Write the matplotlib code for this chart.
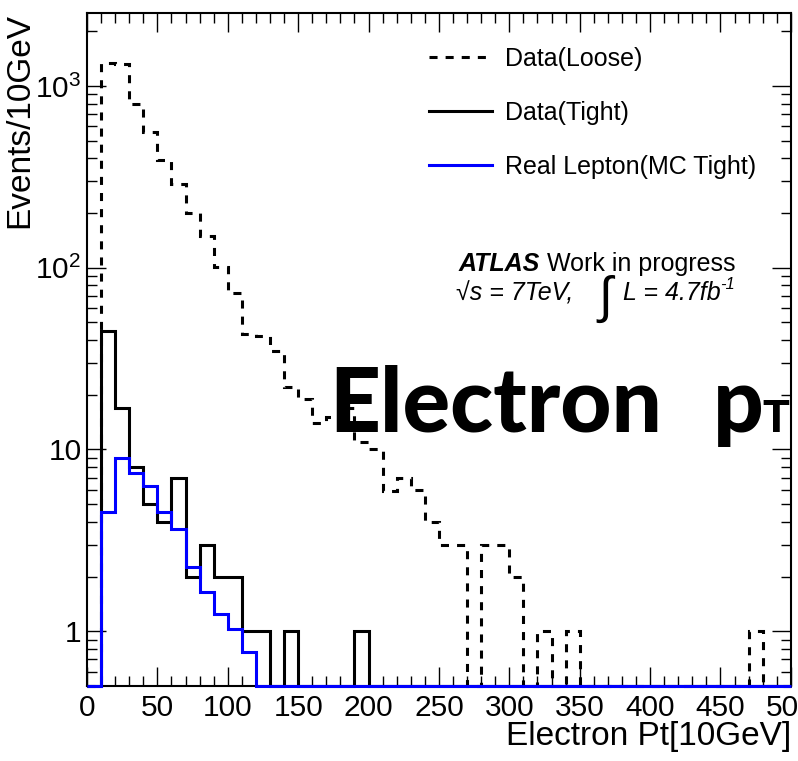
import numpy as np
import matplotlib
matplotlib.use("Agg")
import matplotlib.pyplot as plt
from matplotlib.ticker import MultipleLocator, LogLocator, NullFormatter

plt.rcParams["font.family"] = "Liberation Sans"
plt.rcParams["mathtext.fontset"] = "custom"
plt.rcParams["mathtext.rm"] = "Liberation Sans"
plt.rcParams["mathtext.it"] = "Liberation Sans:italic"
plt.rcParams["mathtext.bf"] = "Liberation Sans:bold"
plt.rcParams["lines.scale_dashes"] = False

# histogram contents, 10 GeV bins from 0 to 500
bin_edges = np.arange(0, 510, 10)
data_loose = [0, 1340, 1320, 800, 555, 390, 290, 200, 150, 101,
              73, 43, 42, 35, 22, 19, 14, 15, 17, 11,
              10, 5.9, 7, 6, 4, 3, 3, 0, 3, 3,
              2, 0, 1, 0, 1, 0, 0, 0, 0, 0,
              0, 0, 0, 0, 0, 0, 0, 1, 0, 0]
data_tight = [0, 45, 17, 8, 5, 4, 7, 2, 3, 2,
              2, 1, 1, 0, 1, 0, 0, 0, 0, 1] + [0] * 30
mc_tight = [0, 4.55, 9.0, 7.45, 6.29, 4.52, 3.67, 2.27, 1.64, 1.24,
            1.03, 0.77] + [0] * 38

labels = ["Data(Loose)", "Data(Tight)", "Real Lepton(MC Tight)"]
ymin, ymax = 0.5, 2530

fig = plt.figure(figsize=(7.98, 7.61), dpi=100)
ax = fig.add_axes([0.109, 0.0986, 0.882, 0.8847])

def draw_hist(vals, **kw):
    v = np.asarray(vals, dtype=float)
    v = np.where(v > 0, v, ymin)   # empty bins sit on the frame, like ROOT
    return ax.stairs(v, bin_edges, baseline=None, clip_on=False, zorder=3, **kw)

h1 = draw_hist(data_loose, color="black", lw=2.2, linestyle=(0, (5.8, 5.8)), label=labels[0])
h2 = draw_hist(data_tight, color="black", lw=2.2, label=labels[1])
h3 = draw_hist(mc_tight, color="#0000ff", lw=2.2, label=labels[2])

ax.set_yscale("log")
ax.set_xlim(0, 500)
ax.set_ylim(ymin, ymax)

ax.set_xticks(np.arange(0, 510, 50))
ax.xaxis.set_minor_locator(MultipleLocator(10))
ax.set_yticks([1, 10, 100, 1000])
ax.set_yticklabels(["1", "10", "$10^{2}$", "$10^{3}$"])
ax.yaxis.set_minor_locator(LogLocator(base=10, subs=np.arange(2, 10)))
ax.yaxis.set_minor_formatter(NullFormatter())

ax.tick_params(which="both", direction="in", top=True, right=True, width=1)
ax.tick_params(which="major", length=14, labelsize=21.5)
ax.tick_params(which="minor", length=7)
ax.tick_params(axis="x", which="major", pad=6)
ax.tick_params(axis="y", which="major", pad=4)
for s in ax.spines.values():
    s.set_linewidth(1.5)

ax.set_xlabel("Electron Pt[10GeV]", loc="right", fontsize=24)
ax.set_ylabel("Events/10GeV", loc="top", fontsize=24)
ax.xaxis.set_label_coords(1.0, -0.052)
ax.yaxis.set_label_coords(-0.074, 1.0)

leg = ax.legend(handles=[h1, h2, h3], loc="upper left", bbox_to_anchor=(0.454, 0.983),
                frameon=False, fontsize=18, handlelength=2.52, handletextpad=0.5,
                labelspacing=1.2)

ax.text(0.528, 0.616, "ATLAS", transform=ax.transAxes, fontsize=18,
        fontweight="bold", fontstyle="italic", va="baseline")
ax.text(0.653, 0.616, "Work in progress", transform=ax.transAxes, fontsize=18, va="baseline")
ax.text(0.525, 0.573, "\u221as = 7TeV,", transform=ax.transAxes, fontsize=18,
        fontstyle="italic", va="baseline")
ax.text(0.726, 0.555, "\u222b", transform=ax.transAxes, fontsize=36,
        fontstyle="italic", va="baseline")
ax.text(0.761, 0.573, "L = 4.7fb", transform=ax.transAxes, fontsize=18,
        fontstyle="italic", va="baseline")
ax.text(0.900, 0.589, "-1", transform=ax.transAxes, fontsize=12,
        fontstyle="italic", va="baseline")

big = dict(transform=ax.transAxes, family="Lato", fontweight="black",
           va="baseline", zorder=5)
ax.text(0.344, 0.3777, "Electron", fontsize=64, ha="left", **big)
ax.text(0.925, 0.3777, "p", fontsize=64, ha="center", **big)
ax.text(0.9787, 0.3777, "T", fontsize=32, ha="center", **big)

fig.savefig("out.png", dpi=100)
